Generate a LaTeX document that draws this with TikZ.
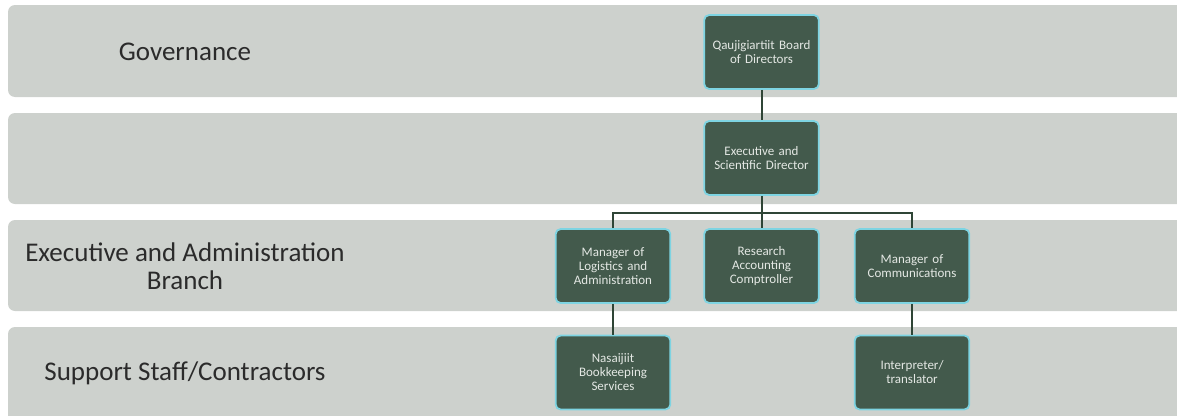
\documentclass[tikz,border=0pt]{standalone}
\usepackage{fontspec}
\setmainfont{Carlito}
\usetikzlibrary{positioning}
\definecolor{colorBand}{HTML}{CDD1CD}
\definecolor{colorBox}{HTML}{435A4C}
\definecolor{colorEdge}{HTML}{7ED4E2}
\definecolor{colorLine}{HTML}{2F4536}
\definecolor{colorLabel}{HTML}{2B2B2B}
\definecolor{colorText}{HTML}{E4E8E4}

\tikzset{
  orgBox/.style={draw=colorEdge, fill=colorBox, line width=1.8pt, rounded corners=5pt,
    minimum width=113pt, minimum height=74pt, text width=108pt, align=center,
    text=colorText, font=\fontsize{13}{14}\selectfont},
  bandLabel/.style={align=center, text=colorLabel, font=\fontsize{27}{28}\selectfont},
  orgLine/.style={draw=colorLine, line width=2pt},
}

\begin{document}
\begin{tikzpicture}[x=1pt, y=-1pt]
  \useasboundingbox (0,0) rectangle (1177,415);

  % bands
  \foreach \top/\bot in {5/97, 113/204, 220/311, 327/430}
    \fill[colorBand, rounded corners=7pt] (8,\top) rectangle (1200,\bot);

  % band labels
  \node[bandLabel] (lblGov) at (185,52) {Governance};
  \node[bandLabel] (lblExec) at (185,266) {Executive and Administration\\Branch};
  \node[bandLabel] (lblSupport) at (185,373) {Support Staff/Contractors};

  % boxes
  \node[orgBox] (board) at (761.5,52) {Qaujigiartiit Board\\of Directors};
  \node[orgBox] (director) at (761.5,158) {Executive and\\Scientific Director};
  \node[orgBox] (logistics) at (613,266) {Manager of\\Logistics and\\Administration};
  \node[orgBox] (comptroller) at (761.5,266) {Research\\Accounting\\Comptroller};
  \node[orgBox] (comms) at (912,266) {Manager of\\Communications};
  \node[orgBox] (books) at (613,372.5) {Nasaijiit\\Bookkeeping\\Services};
  \node[orgBox] (interp) at (912,372.5) {Interpreter/\\translator};

  \coordinate (bus) at (761.5,213);

  % connectors
  \draw[orgLine] (board.south) -- (director.north);
  \draw[orgLine] (director.south) -- (bus);
  \draw[orgLine] (logistics.north) |- (bus) -| (comms.north);
  \draw[orgLine] (bus) -- (comptroller.north);
  \draw[orgLine] (logistics.south) -- (books.north);
  \draw[orgLine] (comms.south) -- (interp.north);
\end{tikzpicture}
\end{document}
